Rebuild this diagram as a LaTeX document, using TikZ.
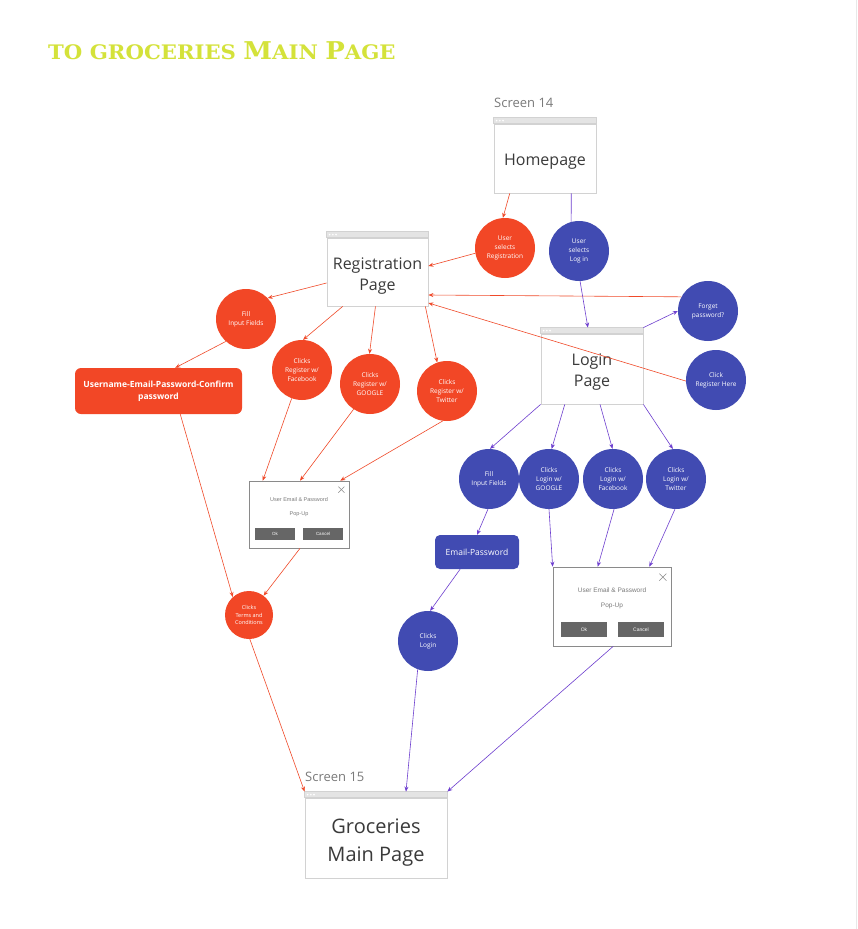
\documentclass[tikz,border=0pt]{standalone}
\usepackage{fontspec}
\setmainfont{Open Sans}
\newfontfamily\titlefont{DejaVu Serif}
\newfontfamily\popfont{Liberation Sans}
\usetikzlibrary{arrows.meta,calc}

\definecolor{redfill}{HTML}{F24726}
\definecolor{bluefill}{HTML}{414BB2}
\definecolor{redline}{HTML}{F04A2A}
\definecolor{blueline}{HTML}{6E3FCF}
\definecolor{titlegreen}{RGB}{212,226,58}
\definecolor{frame}{HTML}{D2D2D2}
\definecolor{bar}{HTML}{E4E4E4}
\definecolor{labelgray}{HTML}{7A7A7A}
\definecolor{ink}{HTML}{3A3A3A}
\definecolor{popgray}{HTML}{8A8A8A}
\definecolor{poptext}{HTML}{7A7A7A}
\definecolor{btngray}{HTML}{666666}
\definecolor{edgegray}{HTML}{E8E8E8}

% small-caps style heading sizes
\newcommand\tcap{\fontsize{24.5}{25}\selectfont}
\newcommand\tsml{\fontsize{20}{21}\selectfont}
% extra room above the first line of a screen caption
\newcommand\capstrut[1]{\rule{0pt}{#1}}

\begin{document}
\begin{tikzpicture}[x=1pt,y=-1pt,
  screen/.style={draw=frame, line width=0.8pt, fill=white, inner sep=0pt,
    font=\fontsize{16}{21}\selectfont, text=ink, align=center},
  screenlabel/.style={anchor=base west, inner sep=0pt, text=labelgray,
    font=\fontsize{13}{15}\selectfont},
  redc/.style={circle, fill=redfill, minimum size=60pt, inner sep=0pt,
    text=white, font=\fontsize{6.5}{9}\selectfont, align=center},
  bluec/.style={circle, fill=bluefill, minimum size=60pt, inner sep=0pt,
    text=white, font=\fontsize{6.5}{9}\selectfont, align=center},
  redbox/.style={fill=redfill, rounded corners=6pt, inner sep=0pt, text=white,
    font=\bfseries\fontsize{8.5}{12}\selectfont, align=center},
  bluebox/.style={fill=bluefill, rounded corners=5pt, inner sep=0pt, text=white,
    font=\fontsize{8.5}{11}\selectfont, align=center},
  popup/.style={draw=popgray, fill=white, line width=0.7pt, inner sep=0pt},
  popbtn/.style={fill=btngray, text=white, inner sep=0pt},
  poptxt/.style={text=poptext, inner sep=0pt},
  rarr/.style={draw=redline, line width=0.6pt, -{Stealth[length=5pt,width=4pt]}},
  barr/.style={draw=blueline, line width=0.6pt, -{Stealth[length=5pt,width=4pt]}},
  bline/.style={draw=blueline, line width=0.6pt},
  closex/.style={draw=popgray, line width=0.6pt}
]
\useasboundingbox (0,0) rectangle (857,929);
\fill[white] (0,0) rectangle (857,929);
\draw[edgegray, line width=1pt] (856.5,0) -- (856.5,929);

% heading
\node[anchor=base west, inner sep=0pt, text=titlegreen, font=\titlefont\bfseries] (title) at (48,59)
  {\scalebox{1.06}[1]{\tsml TO GROCERIES \tcap M\tsml AIN \tcap P\tsml AGE}};

% screens (body below the title bar)
\node[screen, minimum width=102pt, minimum height=69pt] (home) at (545,158.5) {\capstrut{17pt}Homepage};
\node[screen, minimum width=101pt, minimum height=68pt] (reg) at (377.5,272) {\capstrut{19pt}Registration\\Page};
\node[screen, minimum width=102pt, minimum height=70pt] (login) at (592,369) {\capstrut{18pt}Login\\Page};
\node[screen, minimum width=142pt, minimum height=80pt, font=\fontsize{20}{28}\selectfont] (groc) at (376,838) {\capstrut{23pt}Groceries\\Main Page};

\foreach \s in {home,reg,login,groc}{
  \filldraw[fill=bar, draw=frame, line width=0.8pt] (\s.north west) rectangle ([yshift=6pt]\s.north east);
  \foreach \i in {0,1,2}
    \fill[white] ([xshift={3pt+\i*3.2pt},yshift=3pt]\s.north west) circle (0.9pt);
}

\node[screenlabel] (lab14) at (494,107) {Screen 14};
\node[screenlabel] (lab15) at (305,781) {Screen 15};

% registration branch
\node[redc] (usrReg) at (505,248) {User\\selects\\Registration};
\node[redc] (rFill) at (246,319) {Fill\\Input Fields};
\node[redc] (rFb) at (302,370) {Clicks\\Register w/\\Facebook};
\node[redc] (rGo) at (370,384) {Clicks\\Register w/\\GOOGLE};
\node[redc] (rTw) at (447,391) {Clicks\\Register w/\\Twitter};
\node[redc, minimum size=48pt, font=\fontsize{5.5}{7.5}\selectfont] (terms) at (249,615) {Clicks\\Terms and\\Conditions};
\node[redbox, minimum width=167pt, minimum height=46pt] (ubox) at (158.5,391) {Username-Email-Password-Confirm\\password};

% login branch
\node[bluec] (usrLog) at (579,251) {User\\selects\\Log in};
\node[bluec] (forget) at (708,311) {Forget\\password?};
\node[bluec] (regHere) at (716,380) {Click\\Register Here};
\node[bluec] (lFill) at (489,479) {Fill\\Input Fields};
\node[bluec] (lGo) at (549,479) {Clicks\\Login w/\\GOOGLE};
\node[bluec] (lFb) at (613,479) {Clicks\\Login w/\\Facebook};
\node[bluec] (lTw) at (676,479) {Clicks\\Login w/\\Twitter};
\node[bluebox, minimum width=84pt, minimum height=34pt] (ebox) at (477,552) {Email-Password};
\node[bluec] (cLog) at (428,641) {Clicks\\Login};

% pop-ups
\node[popup, minimum width=100pt, minimum height=67pt] (popL) at (299,514.5) {};
\node[poptxt, font=\popfont\fontsize{5.5}{6}\selectfont] (popLt) at (299,500) {User Email \& Password};
\node[poptxt, font=\popfont\fontsize{5.5}{6}\selectfont] (popLs) at (299,514) {Pop-Up};
\node[popbtn, minimum width=40pt, minimum height=12pt, font=\popfont\fontsize{4.5}{5}\selectfont] (popLok) at (275,534) {Ok};
\node[popbtn, minimum width=40pt, minimum height=12pt, font=\popfont\fontsize{4.5}{5}\selectfont] (popLc) at (323,534) {Cancel};
\draw[closex] ([shift={(-11,6)}]popL.north east) -- ++(6,6);
\draw[closex] ([shift={(-5,6)}]popL.north east) -- ++(-6,6);

\node[popup, minimum width=118pt, minimum height=79pt] (popR) at (612,606.5) {};
\node[poptxt, font=\popfont\fontsize{6.5}{7}\selectfont] (popRt) at (612,590) {User Email \& Password};
\node[poptxt, font=\popfont\fontsize{6.5}{7}\selectfont] (popRs) at (612,606) {Pop-Up};
\node[popbtn, minimum width=46pt, minimum height=15pt, font=\popfont\fontsize{5}{6}\selectfont] (popRok) at (584,629.5) {Ok};
\node[popbtn, minimum width=46pt, minimum height=15pt, font=\popfont\fontsize{5}{6}\selectfont] (popRc) at (641,629.5) {Cancel};
\draw[closex] ([shift={(-12,7)}]popR.north east) -- ++(7,7);
\draw[closex] ([shift={(-5,7)}]popR.north east) -- ++(-7,7);

% registration connectors
\draw[rarr] ($(home.south west)!0.157!(home.south east)$) -- (usrReg.94);
\draw[rarr] (usrReg.190) -- ([yshift=6pt]reg.east);
\draw[rarr] ([yshift=-11pt]reg.west) -- (rFill.44);
\draw[rarr] (rFill.228) -- ($(ubox.north west)!0.6!(ubox.north east)$);
\draw[rarr] ($(reg.south west)!0.158!(reg.south east)$) -- (rFb.88);
\draw[rarr] ($(reg.south west)!0.48!(reg.south east)$) -- (rGo.91);
\draw[rarr] ($(reg.south west)!0.97!(reg.south east)$) -- (rTw.109);
\draw[rarr] (forget.152) -- ([yshift=-23pt]reg.east);
\draw[rarr] (regHere.182) -- ([yshift=-31pt]reg.east);
\draw[rarr] (rFb.250) -- ($(popL.north west)!0.14!(popL.north east)$);
\draw[rarr] (rGo.237) -- ($(popL.north west)!0.51!(popL.north east)$);
\draw[rarr] (rTw.262) -- ($(popL.north west)!0.91!(popL.north east)$);
\draw[rarr] ($(popL.south west)!0.51!(popL.south east)$) -- (terms.53);
\draw[rarr] ($(ubox.south west)!0.63!(ubox.south east)$) -- (terms.132);
\draw[rarr] (terms.272) -- ([yshift=6pt]groc.north west);

% login connectors
\draw[bline] ($(home.south west)!0.755!(home.south east)$) -- (usrLog.105);
\draw[barr] (usrLog.272) -- ([yshift=6pt]$(login.north west)!0.46!(login.north east)$);
\draw[barr] ([yshift=6pt]login.north east) -- (forget.west);
\draw[barr] (login.south west) -- (lFill.88);
\draw[barr] ($(login.south west)!0.235!(login.south east)$) -- (lGo.85);
\draw[barr] ($(login.south west)!0.578!(login.south east)$) -- (lFb.91);
\draw[barr] (login.south east) -- (lTw.96);
\draw[barr] (lFill.268) -- (ebox.north);
\draw[barr] (lGo.270) -- (popR.north west);
\draw[barr] (lFb.272) -- ($(popR.north west)!0.38!(popR.north east)$);
\draw[barr] (lTw.268) -- ($(popR.north west)!0.815!(popR.north east)$);
\draw[barr] ($(ebox.south west)!0.3!(ebox.south east)$) -- (cLog.86);
\draw[barr] (cLog.250) -- ([yshift=6pt]$(groc.north west)!0.71!(groc.north east)$);
\draw[barr] ($(popR.south west)!0.51!(popR.south east)$) -- ([yshift=6pt]groc.north east);
\end{tikzpicture}
\end{document}
